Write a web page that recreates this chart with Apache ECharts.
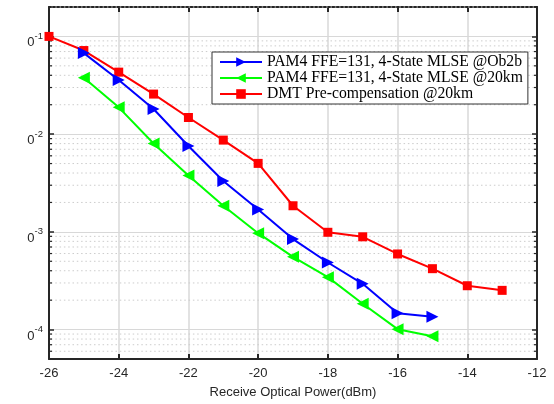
<!DOCTYPE html>
<html><head><meta charset="utf-8">
<script src="https://cdn.jsdelivr.net/npm/echarts@6/dist/echarts.min.js"></script>
<style>html,body{margin:0;padding:0;background:#fff}#c{width:554px;height:404px}</style>
</head><body><div id="c"></div>
<script>
const xPam4B2B = [-25,-24,-23,-22,-21,-20,-19,-18,-17,-16,-15];
const yPam4B2B = [0.0675,0.0358,0.0181,0.00757,0.00331,0.00169,0.000843,0.000486,0.000294,0.000147,0.000135];
const xPam4_20 = [-25,-24,-23,-22,-21,-20,-19,-18,-17,-16,-15];
const yPam4_20 = [0.0378,0.0188,0.00803,0.00378,0.00185,0.000969,0.000555,0.000344,0.000184,0.000101,0.0000855];
const xDmt = [-26,-25,-24,-23,-22,-21,-20,-19,-18,-17,-16,-15,-14,-13];
const yDmt = [0.1,0.0717,0.0431,0.0257,0.0148,0.00869,0.00502,0.00185,0.00099,0.00089,0.000594,0.00042,0.000281,0.000252];
const seriesNames = ['PAM4 FFE=131, 4-State MLSE @Ob2b','PAM4 FFE=131, 4-State MLSE @20km','DMT Pre-compensation @20km'];
const xTicks = [-26,-24,-22,-20,-18,-16,-14,-12];
const yDecades = [1e-4,1e-3,1e-2,1e-1];
const yMinor = [6e-5,7e-5,8e-5,9e-5,2e-4,3e-4,4e-4,5e-4,6e-4,7e-4,8e-4,9e-4,2e-3,3e-3,4e-3,5e-3,6e-3,7e-3,8e-3,9e-3,2e-2,3e-2,4e-2,5e-2,6e-2,7e-2,8e-2,9e-2,0.2];

const pair = (xs, ys) => xs.map((x, i) => [x, ys[i]]);
const XMIN = -26, XMAX = -12;
const frame = '#262626';

const chart = echarts.init(document.getElementById('c'));
chart.setOption({
  animation: false,
  backgroundColor: '#fff',
  grid: {left: 49, right: 17, top: 7, bottom: 39},
  legend: {
    data: seriesNames,
    orient: 'vertical',
    left: 212, top: 52,
    itemWidth: 42, itemHeight: 12, itemGap: 0,
    padding: [2, 5, 2, 7],
    backgroundColor: '#fff',
    borderColor: '#333', borderWidth: 1,
    textStyle: {fontFamily: 'Liberation Serif', fontSize: 15.7, lineHeight: 14.5, color: '#000'}
  },
  xAxis: [{
    type: 'value', min: XMIN, max: XMAX, interval: 2, position: 'bottom',
    axisLine: {show: true, onZero: false, lineStyle: {color: frame, width: 2}},
    axisTick: {show: true, inside: true, length: 5, lineStyle: {color: frame, width: 2}},
    axisLabel: {color: '#262626', fontSize: 13, fontFamily: 'Liberation Sans', margin: 8},
    splitLine: {show: true, lineStyle: {color: '#d8d8d8', width: 1.5}},
    name: 'Receive Optical Power(dBm)', nameLocation: 'middle', nameGap: 27,
    nameTextStyle: {color: '#262626', fontSize: 13, fontFamily: 'Liberation Sans'}
  }, {
    type: 'value', min: XMIN, max: XMAX, interval: 2, position: 'top',
    axisLine: {show: true, onZero: false, lineStyle: {color: frame, width: 2}},
    axisTick: {show: true, inside: true, length: 5, lineStyle: {color: frame, width: 2}},
    axisLabel: {show: false}, splitLine: {show: false}
  }],
  yAxis: [{
    type: 'log', logBase: 10, min: 5e-5, max: 0.2, position: 'left',
    axisLine: {show: true, onZero: false, lineStyle: {color: frame, width: 2}},
    axisTick: {show: true, inside: true, length: 5, lineStyle: {color: frame, width: 1.5}},
    splitLine: {show: true, lineStyle: {color: '#d8d8d8', width: 1}},
    axisLabel: {
      margin: 6,
      formatter: v => {
        const e = Math.round(Math.log10(v));
        if (Math.abs(Math.log10(v) - e) > 1e-6) return '';
        return '{b|0}{s|' + e + '}';
      },
      rich: {
        b: {fontSize: 13, color: '#262626', fontFamily: 'Liberation Sans', verticalAlign: 'bottom', padding: [0,0,-8,0]},
        s: {fontSize: 9.5, color: '#262626', fontFamily: 'Liberation Sans', verticalAlign: 'bottom', padding: [0,0,0,0]}
      }
    }
  }, {
    type: 'log', logBase: 10, min: 5e-5, max: 0.2, position: 'right',
    axisLine: {show: true, onZero: false, lineStyle: {color: frame, width: 2}},
    axisTick: {show: true, inside: true, length: 5, lineStyle: {color: frame, width: 1.5}},
    axisLabel: {show: false}, splitLine: {show: false}
  }],
  series: [
    {
      type: 'custom', z: 1, silent: true,
      data: yMinor,
      encode: {y: 0},
      renderItem: (params, api) => {
        const v = api.value(0);
        const pl = api.coord([XMIN, v]);
        const pr = api.coord([XMAX, v]);
        const y = pl[1];
        return {type: 'group', children: [
          {type: 'line', shape: {x1: pl[0] + 2, y1: y, x2: pr[0] - 2, y2: y},
           style: {stroke: '#cccccc', lineWidth: 1, lineDash: [1.5, 2.8]}},
          {type: 'line', shape: {x1: pl[0], y1: y, x2: pl[0] + 3, y2: y},
           style: {stroke: frame, lineWidth: 1.2}},
          {type: 'line', shape: {x1: pr[0], y1: y, x2: pr[0] - 3, y2: y},
           style: {stroke: frame, lineWidth: 1.2}}
        ]};
      }
    },
    {
      name: seriesNames[0], type: 'line', z: 4,
      data: pair(xPam4B2B, yPam4B2B),
      symbol: 'path://M0,0L10,5L0,10Z', symbolSize: [12, 12],
      lineStyle: {color: '#0000ff', width: 2},
      itemStyle: {color: '#0000ff'}
    },
    {
      name: seriesNames[1], type: 'line', z: 3,
      data: pair(xPam4_20, yPam4_20),
      symbol: 'path://M10,0L0,5L10,10Z', symbolSize: [12, 12],
      lineStyle: {color: '#00ff00', width: 2},
      itemStyle: {color: '#00ff00'}
    },
    {
      name: seriesNames[2], type: 'line', z: 3,
      data: pair(xDmt, yDmt),
      symbol: 'rect', symbolSize: 9,
      lineStyle: {color: '#ff0000', width: 2},
      itemStyle: {color: '#ff0000'}
    }
  ]
});
</script></body></html>
